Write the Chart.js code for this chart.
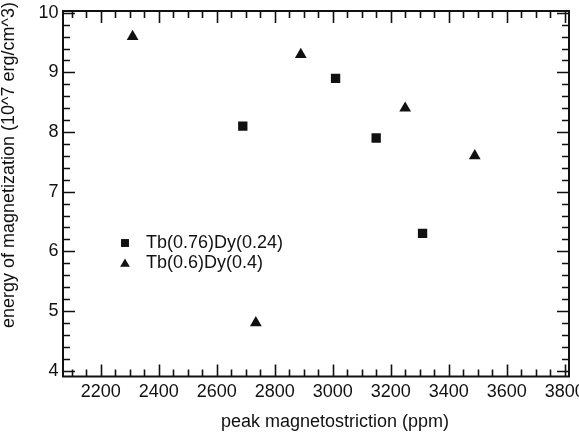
<!DOCTYPE html>
<html><head><meta charset="utf-8">
<script src="https://cdn.jsdelivr.net/npm/chart.js@4/dist/chart.umd.min.js"></script>
<style>html,body{margin:0;padding:0;background:#fff}canvas{display:block}</style>
</head><body>
<canvas id="c" width="579" height="442"></canvas>
<script>
const seriesNames = ['Tb(0.76)Dy(0.24)', 'Tb(0.6)Dy(0.4)'];
const squareX = [2690, 3010, 3150, 3310];
const squareY = [8.1, 8.9, 7.9, 6.3];
const triangleX = [2310, 2735, 2890, 3250, 3490];
const triangleY = [9.6, 4.8, 9.3, 8.4, 7.6];
const xTicks = [2200, 2400, 2600, 2800, 3000, 3200, 3400, 3600, 3800];
const yTicks = [4, 5, 6, 7, 8, 9, 10];
const xTitle = 'peak magnetostriction (ppm)';
const yTitle = 'energy of magnetization (10^7 erg/cm^3)';

const FONT = '18px "Liberation Sans", Arial, sans-serif';
const INK = '#111';

function marker(ctx, style, r, x, y) {
  ctx.save();
  ctx.fillStyle = INK;
  Chart.helpers.drawPoint(ctx, {pointStyle: style, radius: r, borderWidth: 0, rotation: 0}, x, y);
  ctx.restore();
}

const framePlugin = {
  id: 'frame',
  afterDraw(chart) {
    const ctx = chart.ctx, a = chart.chartArea, xs = chart.scales.x, ys = chart.scales.y;
    ctx.save();
    ctx.strokeStyle = INK;
    ctx.lineWidth = 2;
    ctx.strokeRect(a.left, a.top, a.right - a.left, a.bottom - a.top);
    ctx.lineWidth = 1.6;
    ctx.beginPath();
    for (let k = Math.ceil(xs.min / 50); k * 50 <= xs.max; k++) {
      const v = k * 50, px = Math.round(xs.getPixelForValue(v)) + 0.5;
      const len = (v % 200 === 0) ? 12 : 7;
      ctx.moveTo(px, a.bottom); ctx.lineTo(px, a.bottom - len);
      ctx.moveTo(px, a.top); ctx.lineTo(px, a.top + len);
    }
    for (let k = Math.ceil(ys.min / 0.2 - 1e-9); k * 0.2 <= ys.max + 1e-9; k++) {
      const v = k * 0.2, py = Math.round(ys.getPixelForValue(v)) + 0.5;
      const len = (k % 5 === 0) ? 12 : 7;
      ctx.moveTo(a.left, py); ctx.lineTo(a.left + len, py);
      ctx.moveTo(a.right, py); ctx.lineTo(a.right - len, py);
    }
    ctx.stroke();

    ctx.fillStyle = INK;
    ctx.font = FONT;
    ctx.textAlign = 'center'; ctx.textBaseline = 'middle';
    xTicks.forEach(v => ctx.fillText(String(v), xs.getPixelForValue(v), 392));
    ctx.textAlign = 'right';
    yTicks.forEach(v => ctx.fillText(String(v), 58.5, ys.getPixelForValue(v)));

    ctx.textAlign = 'center';
    ctx.fillText(xTitle, 335, 422);
    ctx.save();
    ctx.translate(9.5, 165);
    ctx.rotate(-Math.PI / 2);
    ctx.fillText(yTitle, 0, 0);
    ctx.restore();

    marker(ctx, 'rect', 5.6, 125, 243);
    marker(ctx, 'triangle', 5.6, 125, 264);
    ctx.textAlign = 'left';
    ctx.fillText(seriesNames[0], 146, 243.5);
    ctx.fillText(seriesNames[1], 146, 263);
    ctx.restore();
  }
};

new Chart(document.getElementById('c'), {
  type: 'scatter',
  data: {
    datasets: [
      {label: seriesNames[0], data: squareX.map((x, i) => ({x, y: squareY[i]})),
       pointStyle: 'rect', pointRadius: 6.6, backgroundColor: INK, borderWidth: 0},
      {label: seriesNames[1], data: triangleX.map((x, i) => ({x, y: triangleY[i]})),
       pointStyle: 'triangle', pointRadius: 6.8, backgroundColor: INK, borderWidth: 0}
    ]
  },
  options: {
    responsive: false,
    animation: false,
    layout: {padding: {left: 63, right: 10, top: 11, bottom: 65.5}},
    plugins: {legend: {display: false}, tooltip: {enabled: false}},
    scales: {
      x: {type: 'linear', min: 2070, max: 3815, display: false},
      y: {type: 'linear', min: 3.9, max: 10.03, display: false}
    }
  },
  plugins: [framePlugin]
});
</script>
</body></html>
